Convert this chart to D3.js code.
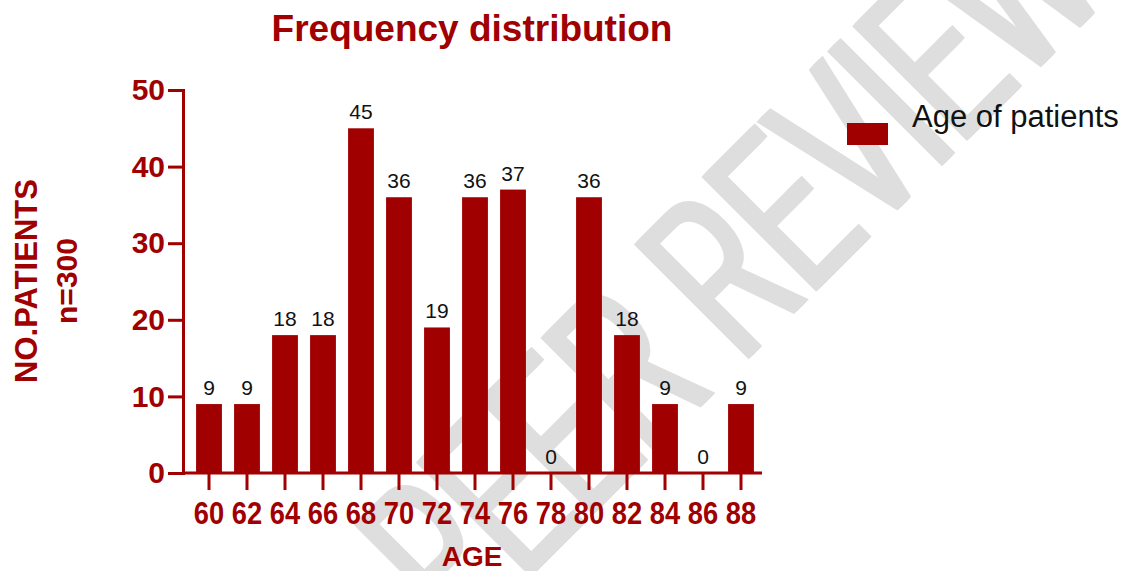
<!DOCTYPE html>
<html>
<head>
<meta charset="utf-8">
<script src="https://cdn.jsdelivr.net/npm/d3@7"></script>
<style>
  body { margin: 0; background: #fff; }
  svg { display: block; font-family: "Liberation Sans", Arial, sans-serif; }
</style>
</head>
<body>
<div id="chart"></div>
<script>
// data
const ages = ["60", "62", "64", "66", "68", "70", "72", "74", "76", "78", "80", "82", "84", "86", "88"];
const patients = [9, 9, 18, 18, 45, 36, 19, 36, 37, 0, 36, 18, 9, 0, 9];
const yTicks = [0, 10, 20, 30, 40, 50];
const seriesName = "Age of patients";

const width = 1125;
const height = 571;
const red = "#a00000";

const svg = d3.select("#chart")
  .append("svg")
  .attr("width", width)
  .attr("height", height);

// watermark behind everything (narrow letters, drawn a few times to thicken the stems)
const wm = svg.append("g")
  .attr("transform", "translate(463,645) rotate(-45) scale(0.56,1)")
  .attr("fill", "#dedede");
[0, 4, 8, 12].forEach(dx => {
  wm.append("text")
    .attr("x", dx - 6)
    .attr("font-size", 236)
    .text("PEER REVIEW");
});

const x = d3.scaleBand()
  .domain(ages)
  .range([190, 760])
  .paddingInner(0.32)
  .paddingOuter(0.16);

const y = d3.scaleLinear()
  .domain([0, 50])
  .range([473, 90]);

const rows = ages.map((a, i) => ({ age: a, n: patients[i] }));

// bars
svg.selectAll("rect.bar")
  .data(rows)
  .enter()
  .append("rect")
  .attr("class", "bar")
  .attr("x", d => x(d.age))
  .attr("y", d => y(d.n))
  .attr("width", x.bandwidth())
  .attr("height", d => y(0) - y(d.n))
  .attr("fill", red);

// value labels
svg.selectAll("text.val")
  .data(rows)
  .enter()
  .append("text")
  .attr("class", "val")
  .attr("x", d => x(d.age) + x.bandwidth() / 2)
  .attr("y", d => y(d.n) - 9)
  .attr("text-anchor", "middle")
  .attr("font-size", 21)
  .attr("fill", "#111")
  .text(d => d.n);

// y axis
const yAxis = svg.append("g")
  .attr("transform", "translate(183,0)")
  .call(d3.axisLeft(y).tickValues(yTicks).tickSize(15).tickPadding(3));
yAxis.select(".domain").attr("stroke", red).attr("stroke-width", 3);
yAxis.selectAll(".tick line").attr("stroke", red).attr("stroke-width", 3);
yAxis.selectAll(".tick text")
  .attr("fill", red)
  .attr("font-size", 30)
  .attr("font-weight", "bold")
  .attr("font-family", "Liberation Sans, Arial, sans-serif");

// x axis
const xAxis = svg.append("g")
  .attr("transform", `translate(0,${y(0)})`)
  .call(d3.axisBottom(x).tickSize(17).tickPadding(12));
xAxis.select(".domain").remove();
xAxis.selectAll(".tick line").attr("stroke", red).attr("stroke-width", 3);
xAxis.selectAll(".tick text")
  .attr("fill", red)
  .attr("font-size", 31)
  .attr("font-weight", "bold")
  .attr("font-family", "Liberation Sans, Arial, sans-serif")
  .attr("transform", "scale(0.88,1)");
xAxis.append("line")
  .attr("x1", 182)
  .attr("x2", 762)
  .attr("stroke", red)
  .attr("stroke-width", 3);

// titles
svg.append("text")
  .attr("x", 472)
  .attr("y", 41)
  .attr("text-anchor", "middle")
  .attr("font-size", 37)
  .attr("font-weight", "bold")
  .attr("fill", red)
  .text("Frequency distribution");

svg.append("text")
  .attr("x", 472)
  .attr("y", 566)
  .attr("text-anchor", "middle")
  .attr("font-size", 28)
  .attr("font-weight", "bold")
  .attr("fill", red)
  .text("AGE");

svg.append("text")
  .attr("transform", "translate(37,281) rotate(-90)")
  .attr("text-anchor", "middle")
  .attr("font-size", 31)
  .attr("font-weight", "bold")
  .attr("fill", red)
  .text("NO.PATIENTS");

svg.append("text")
  .attr("transform", "translate(77,281) rotate(-90)")
  .attr("text-anchor", "middle")
  .attr("font-size", 30)
  .attr("font-weight", "bold")
  .attr("fill", red)
  .text("n=300");

// legend
svg.append("rect")
  .attr("x", 847)
  .attr("y", 123)
  .attr("width", 41)
  .attr("height", 22)
  .attr("fill", red);

svg.append("text")
  .attr("x", 912)
  .attr("y", 127)
  .attr("font-size", 31)
  .attr("fill", "#111")
  .text(seriesName);
</script>
</body>
</html>
